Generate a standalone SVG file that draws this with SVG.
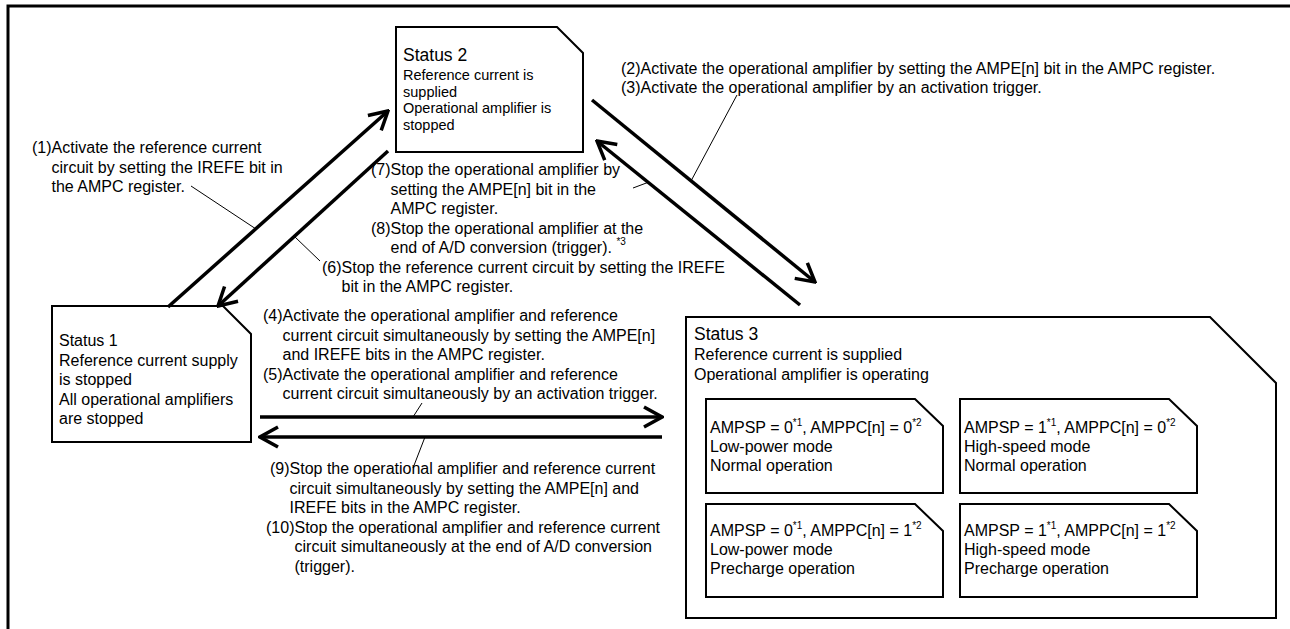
<svg xmlns="http://www.w3.org/2000/svg" width="1290" height="629" viewBox="0 0 1290 629">
<style>
text{font-family:"Liberation Sans",Arial,sans-serif;font-size:16px;fill:#000}
.s2{font-size:14.5px}
.hd{font-size:17.5px}
.sup{font-size:10px}
.box{fill:#fff;stroke:#000;stroke-width:2}
.thick{stroke:#000;stroke-width:3.5;fill:none}
.lead{stroke:#000;stroke-width:1;fill:none}
</style>
<defs>
<marker id="ah" viewBox="-22 -12 24 24" refX="0" refY="0" markerWidth="24" markerHeight="24" markerUnits="userSpaceOnUse" orient="auto">
<path d="M-18,-10 L0,0 L-18,10" fill="none" stroke="#000" stroke-width="3.5"/>
</marker>
</defs>
<rect width="1290" height="629" fill="#fff"/>
<path d="M8,629 V6 H1290" fill="none" stroke="#000" stroke-width="3"/>

<g id="status2">
<path class="box" d="M396,27 H557 L583,53 V152 H396 Z"/>
<text class="hd" x="403" y="61">Status 2</text>
<text class="s2" x="403" y="80">Reference current is</text>
<text class="s2" x="403" y="96.5">supplied</text>
<text class="s2" x="403" y="113">Operational amplifier is</text>
<text class="s2" x="403" y="129.5">stopped</text>
</g>

<g id="status1">
<path class="box" d="M52,306 H223 L251,334 V442 H52 Z"/>
<text x="59" y="346">Status 1</text>
<text x="59" y="365.5">Reference current supply</text>
<text x="59" y="385">is stopped</text>
<text x="59" y="404.5">All operational amplifiers</text>
<text x="59" y="424">are stopped</text>
</g>

<g id="status3">
<path class="box" d="M686,317 H1210 L1276,383 V618 H686 Z"/>
<text class="hd" x="694" y="340">Status 3</text>
<text x="694" y="360">Reference current is supplied</text>
<text x="694" y="380">Operational amplifier is operating</text>
</g>

<g id="mode-lp-normal">
<path class="box" d="M706,399 H915 L943,426 V493 H706 Z"/>
<text x="710" y="433">AMPSP = 0<tspan class="sup" dy="-7">*1</tspan><tspan dy="7">, AMPPC[n] = 0</tspan><tspan class="sup" dy="-7">*2</tspan></text>
<text x="710" y="452">Low-power mode</text>
<text x="710" y="471">Normal operation</text>
</g>
<g id="mode-hs-normal">
<path class="box" d="M960,399 H1169 L1197,426 V493 H960 Z"/>
<text x="964" y="433">AMPSP = 1<tspan class="sup" dy="-7">*1</tspan><tspan dy="7">, AMPPC[n] = 0</tspan><tspan class="sup" dy="-7">*2</tspan></text>
<text x="964" y="452">High-speed mode</text>
<text x="964" y="471">Normal operation</text>
</g>
<g id="mode-lp-precharge">
<path class="box" d="M706,504 H915 L943,531 V597 H706 Z"/>
<text x="710" y="536">AMPSP = 0<tspan class="sup" dy="-7">*1</tspan><tspan dy="7">, AMPPC[n] = 1</tspan><tspan class="sup" dy="-7">*2</tspan></text>
<text x="710" y="555">Low-power mode</text>
<text x="710" y="574">Precharge operation</text>
</g>
<g id="mode-hs-precharge">
<path class="box" d="M960,504 H1169 L1197,531 V597 H960 Z"/>
<text x="964" y="536">AMPSP = 1<tspan class="sup" dy="-7">*1</tspan><tspan dy="7">, AMPPC[n] = 1</tspan><tspan class="sup" dy="-7">*2</tspan></text>
<text x="964" y="555">High-speed mode</text>
<text x="964" y="574">Precharge operation</text>
</g>

<g id="connectors">
<path class="thick" d="M168,307 L388,111" marker-end="url(#ah)"/>
<path class="thick" d="M388,151 L218,306" marker-end="url(#ah)"/>
<path class="thick" d="M592,100 L815,282" marker-end="url(#ah)"/>
<path class="thick" d="M800,305 L597,141" marker-end="url(#ah)"/>
<path class="thick" d="M260,417 L662,417" marker-end="url(#ah)"/>
<path class="thick" d="M662,437 L260,437" marker-end="url(#ah)"/>
<path class="lead" d="M191,186 L256,229"/>
<path class="lead" d="M295,237 L320,261"/>
<path class="lead" d="M633,188 L649,182"/>
<path class="lead" d="M737,95 L691,181"/>
<path class="lead" d="M413,417 L422,403"/>
<path class="lead" d="M425,437 L413,468"/>
</g>

<g id="labels">
<text x="32" y="153">(1)Activate the reference current</text>
<text x="51.5" y="172.5">circuit by setting the IREFE bit in</text>
<text x="51.5" y="192">the AMPC register.</text>

<text x="621" y="74">(2)Activate the operational amplifier by setting the AMPE[n] bit in the AMPC register.</text>
<text x="621" y="93">(3)Activate the operational amplifier by an activation trigger.</text>

<text x="371" y="175">(7)Stop the operational amplifier by</text>
<text x="390.5" y="194.5">setting the AMPE[n] bit in the</text>
<text x="390.5" y="214">AMPC register.</text>
<text x="371" y="233.5">(8)Stop the operational amplifier at the</text>
<text x="390.5" y="253">end of A/D conversion (trigger). <tspan class="sup" dy="-8">*3</tspan></text>

<text x="322" y="272.5">(6)Stop the reference current circuit by setting the IREFE</text>
<text x="341.5" y="292">bit in the AMPC register.</text>

<text x="263" y="321">(4)Activate the operational amplifier and reference</text>
<text x="282.5" y="340.5">current circuit simultaneously by setting the AMPE[n]</text>
<text x="282.5" y="360">and IREFE bits in the AMPC register.</text>
<text x="263" y="379.5">(5)Activate the operational amplifier and reference</text>
<text x="282.5" y="399">current circuit simultaneously by an activation trigger.</text>

<text x="270" y="474">(9)Stop the operational amplifier and reference current</text>
<text x="289.5" y="493.5">circuit simultaneously by setting the AMPE[n] and</text>
<text x="289.5" y="513">IREFE bits in the AMPC register.</text>
<text x="266" y="532.5">(10)Stop the operational amplifier and reference current</text>
<text x="294.5" y="552">circuit simultaneously at the end of A/D conversion</text>
<text x="294.5" y="571.5">(trigger).</text>
</g>
</svg>
